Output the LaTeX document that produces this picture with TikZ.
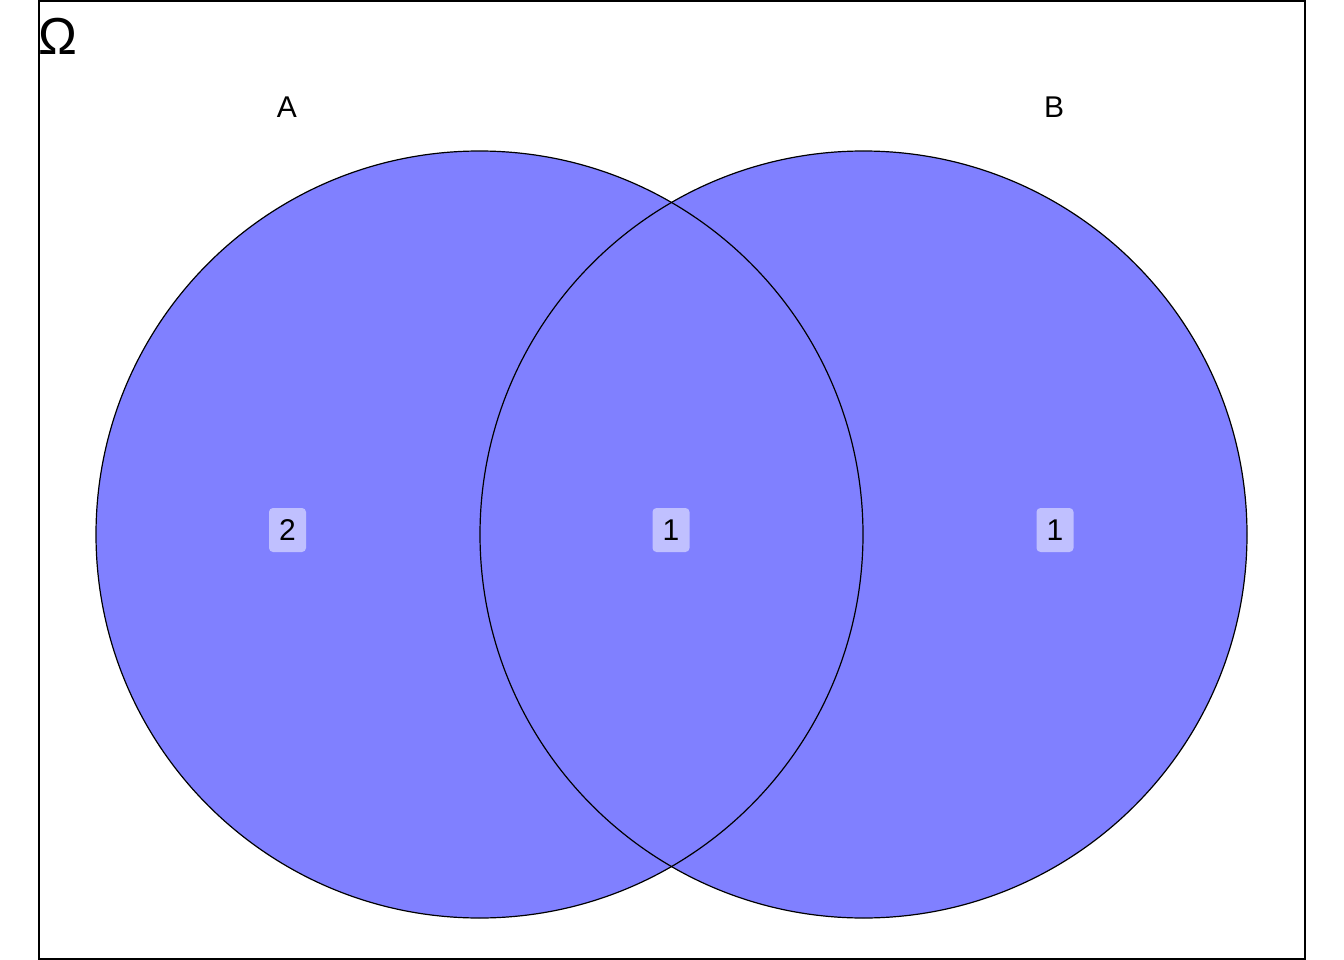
\documentclass[tikz,border=0pt]{standalone}
\usepackage{fontspec}
\setmainfont{Liberation Sans}
\definecolor{setfill}{RGB}{128,128,255}
\definecolor{labfill}{RGB}{192,192,255}
\begin{document}
\begin{tikzpicture}[x=1pt,y=-1pt,
  setcirc/.style={fill=setfill,draw=none},
  outline/.style={draw=black,line width=1.2pt},
  count/.style={fill=labfill,rounded corners=4pt,minimum width=37pt,minimum height=44pt,inner sep=0pt,font=\fontsize{30}{30}\selectfont},
  setlab/.style={font=\fontsize{30}{30}\selectfont}]
\useasboundingbox (0,0) rectangle (1344,960);
\fill[white] (0,0) rectangle (1344,960);
\coordinate (ca) at (479.5,534.5);
\coordinate (cb) at (863.5,534.5);
\fill[setfill] (ca) circle[radius=383.5];
\fill[setfill] (cb) circle[radius=383.5];
\draw[outline] (ca) circle[radius=383.5];
\draw[outline] (cb) circle[radius=383.5];
\draw[line width=2pt] (39,1) rectangle (1304.5,958.5) ;
\node[anchor=west,font=\fontsize{52}{52}\selectfont,inner sep=0pt] (omega) at (38,36) {Ω};
\node[setlab] (la) at (287,107) {A};
\node[setlab] (lb) at (1054,107) {B};
\node[count] (n1) at (287.5,530) {2};
\node[count] (n2) at (671,530) {1};
\node[count] (n3) at (1055,530) {1};
\end{tikzpicture}
\end{document}
